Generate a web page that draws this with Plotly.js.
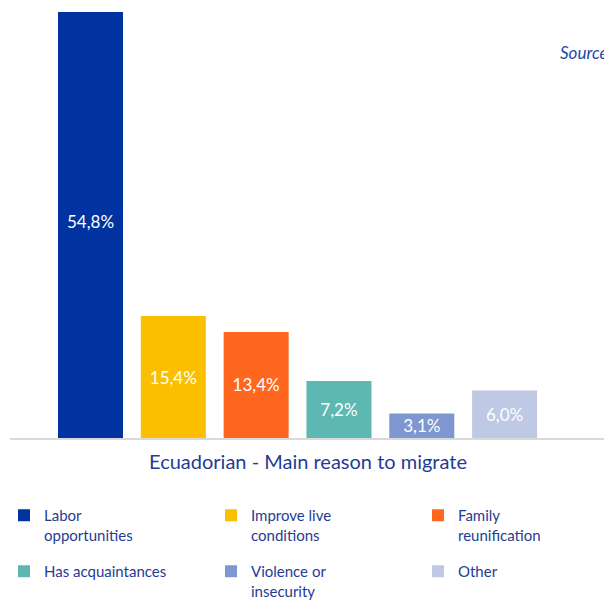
<!DOCTYPE html>
<html>
<head>
<meta charset="utf-8">
<script src="https://cdn.plot.ly/plotly-3.0.1.min.js"></script>
<style>html,body{margin:0;padding:0;background:#fff;}</style>
</head>
<body>
<div id="chart" style="width:604px;height:600px;"></div>
<script>
var categories = ["Labor<br>opportunities", "Improve live<br>conditions", "Family<br>reunification", "Has acquaintances", "Violence or<br>insecurity", "Other"];
var values = [54.8, 15.4, 13.4, 7.2, 3.1, 6.0];
var colors = ["#0033A0", "#FBBF00", "#FF671F", "#5CB8B1", "#7F97D1", "#BFC8E5"];
var chartTitle = "Ecuadorian - Main reason to migrate";
var sourceText = "Source:";

var textColor = "#1F3C94";
var legendNames = ["legend", "legend2", "legend3"];
var traces = categories.map(function (c, i) {
  return {
    type: "bar",
    x: [i],
    y: [values[i]],
    name: c,
    width: 0.785,
    marker: { color: colors[i] },
    text: [values[i].toFixed(1).replace(".", ",") + "%"],
    textposition: "inside",
    insidetextanchor: "middle",
    constraintext: "none",
    textfont: { color: "#ffffff", size: 17, family: "Lato" },
    hoverinfo: "skip",
    legend: legendNames[i % 3],
    legendgroup: "g" + i
  };
});

function legendAt(xpx) {
  return {
    orientation: "v",
    xref: "paper",
    yref: "container",
    x: (xpx - 10) / 594,
    y: 1 - 499 / 600,
    xanchor: "left",
    yanchor: "top",
    valign: "top",
    tracegroupgap: 14,
    bgcolor: "rgba(0,0,0,0)",
    font: { family: "Lato", size: 15, color: textColor },
    traceorder: "grouped"
  };
}

var layout = {
  width: 604,
  height: 600,
  margin: { l: 10, r: 0, t: 12, b: 162, pad: 0 },
  paper_bgcolor: "#ffffff",
  plot_bgcolor: "#ffffff",
  barmode: "overlay",
  showlegend: true,
  title: {
    text: chartTitle,
    x: 0.51,
    xref: "container",
    xanchor: "center",
    y: 1 - 462 / 600,
    yref: "container",
    yanchor: "middle",
    font: { family: "Lato", size: 20, color: textColor }
  },
  xaxis: {
    type: "linear",
    range: [-0.972, 6.2],
    showticklabels: false,
    ticks: "",
    showgrid: false,
    zeroline: false,
    showline: true,
    linecolor: "#D9D9D9",
    linewidth: 2,
    fixedrange: true
  },
  yaxis: {
    range: [0, 53.8],
    visible: false,
    showgrid: false,
    zeroline: false,
    fixedrange: true
  },
  legend: legendAt(4),
  legend2: legendAt(211),
  legend3: legendAt(418),
  annotations: [{
    text: sourceText,
    xref: "paper",
    yref: "paper",
    x: (558 - 10) / 594,
    y: (438 - 52) / 426,
    xanchor: "left",
    yanchor: "middle",
    showarrow: false,
    font: { family: "Lato", size: 17, color: "#2347A8", style: "italic" }
  }]
};

Plotly.newPlot("chart", traces, layout, { displayModeBar: false, staticPlot: true });
</script>
</body>
</html>
